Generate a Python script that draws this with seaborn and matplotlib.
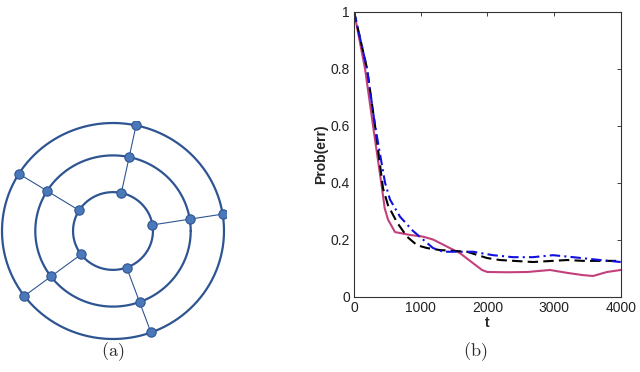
import numpy as np
import pandas as pd
import matplotlib
matplotlib.use("Agg")
import matplotlib.pyplot as plt
import seaborn as sns

# ---------------- data ----------------
# (a) ring network
ring_radii = [1.0, 0.70, 0.36]
spoke_angles_deg = [78, 148, 9, 217, -70]

# (b) error probability vs t
t_black = [0, 195, 315, 435, 510, 645, 795, 945, 1095, 1290, 1695, 1995, 2190, 2685, 3195, 3435, 4000]
p_black = [1.0, 0.8, 0.6, 0.38, 0.32, 0.26, 0.21, 0.18, 0.17, 0.163, 0.157, 0.135, 0.128, 0.121, 0.128, 0.125, 0.125]

t_blue = [0, 195, 315, 465, 540, 690, 885, 1035, 1185, 1335, 1785, 2085, 2385, 2685, 2985, 3285, 3690, 4000]
p_blue = [1.0, 0.8, 0.6, 0.4, 0.34, 0.28, 0.23, 0.2, 0.17, 0.157, 0.157, 0.145, 0.138, 0.138, 0.145, 0.138, 0.128, 0.121]

t_mag = [0, 165, 285, 420, 460, 510, 615, 840, 1035, 1185, 1395, 1590, 1785, 1920, 2000, 2300, 2600, 2940, 3195, 3435, 3585, 3795, 4000]
p_mag = [1.0, 0.8, 0.6, 0.38, 0.31, 0.27, 0.226, 0.216, 0.21, 0.20, 0.175, 0.152, 0.117, 0.093, 0.086, 0.085, 0.086, 0.093, 0.083, 0.075, 0.072, 0.086, 0.093]

x_ticks = [0, 1000, 2000, 3000, 4000]
y_ticks = [0, 0.2, 0.4, 0.6, 0.8, 1]
y_tick_labels = ["0", "0.2", "0.4", "0.6", "0.8", "1"]

# ---------------- figure ----------------
sns.set_style("white")
plt.rcParams["font.family"] = ["Liberation Sans", "DejaVu Sans"]
plt.rcParams["mathtext.fontset"] = "cm"

W, H = 640, 372
fig = plt.figure(figsize=(W / 100, H / 100), dpi=100)

# ----- panel (a) -----
axa = fig.add_axes([0 / W, (H - 341) / H, 226 / W, 220 / H])
ring_col = "#2e5592"
node_face = "#4a78b8"
th = np.linspace(0, 2 * np.pi, 400)
for r in ring_radii:
    axa.plot(r * np.cos(th), r * np.sin(th), color=ring_col, lw=1.6, zorder=1)
nodes = []
for a in spoke_angles_deg:
    ar = np.deg2rad(a)
    xs = [r * np.cos(ar) for r in ring_radii]
    ys = [r * np.sin(ar) for r in ring_radii]
    axa.plot(xs, ys, color=ring_col, lw=0.8, zorder=1)
    for x, y in zip(xs, ys):
        nodes.append((x, y))
nd = pd.DataFrame(nodes, columns=["x", "y"])
sns.scatterplot(data=nd, x="x", y="y", ax=axa, s=45, color=node_face,
                edgecolor="#2e5592", linewidth=0.8, zorder=3)
axa.set_xlim(-113 / 111, 113 / 111)
axa.set_ylim(-110 / 108, 110 / 108)
axa.set_axis_off()

fig.text(113 / W, 1 - 352 / H, r"$\mathrm{(a)}$", ha="center", va="center", fontsize=13)
fig.text(475 / W, 1 - 352 / H, r"$\mathrm{(b)}$", ha="center", va="center", fontsize=13)

# ----- panel (b) -----
x0, x1 = 354, 620.7
y0, y1 = 296.5, 11.5
axb = fig.add_axes([x0 / W, (H - y0) / H, (x1 - x0) / W, (y0 - y1) / H])

df = pd.concat([
    pd.DataFrame({"t": t_black, "p": p_black, "s": "black"}),
    pd.DataFrame({"t": t_blue, "p": p_blue, "s": "blue"}),
    pd.DataFrame({"t": t_mag, "p": p_mag, "s": "mag"}),
], ignore_index=True)

palette = {"black": "#000000", "blue": "#1010e0", "mag": "#c2407c"}
dashes = {"black": (5, 2.5), "blue": (5, 2, 1, 2), "mag": ""}
sns.lineplot(data=df, x="t", y="p", hue="s", style="s", palette=palette,
             dashes=dashes, hue_order=["mag", "black", "blue"],
             ax=axb, lw=1.5, legend=False, estimator=None, sort=False)

axb.set_xlim(0, 4000)
axb.set_ylim(0, 1)
axb.set_xticks(x_ticks)
axb.set_xticklabels([str(v) for v in x_ticks])
axb.set_yticks(y_ticks)
axb.set_yticklabels(y_tick_labels)
axb.tick_params(direction="in", length=3, width=0.6, top=True, right=True,
                labelsize=10, colors="#222222", pad=3)
for sp in axb.spines.values():
    sp.set_visible(True)
    sp.set_color("#333333")
    sp.set_linewidth(0.8)
axb.set_xlabel("t", fontsize=10, fontweight="bold", labelpad=1)
axb.set_ylabel("Prob(err)", fontsize=10, fontweight="bold", labelpad=2)

fig.savefig("out.png", dpi=100)
